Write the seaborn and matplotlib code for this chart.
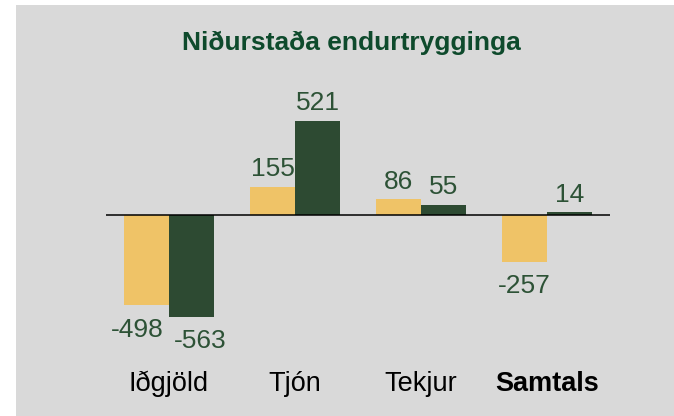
import matplotlib
matplotlib.use("Agg")
import matplotlib.pyplot as plt
from matplotlib.patches import Rectangle
import seaborn as sns
import pandas as pd

categories = ["Iðgjöld", "Tjón", "Tekjur", "Samtals"]
series_names = ["Fyrra ár", "Árið"]
values_a = [-498, 155, 86, -257]
values_b = [-563, 521, 55, 14]
title = "Niðurstaða endurtrygginga"

YELLOW = "#efc367"
GREEN = "#2d4a32"
TEXT_GREEN = "#2d5236"
TITLE_GREEN = "#0e4a2c"
BG = "#d9d9d9"

sns.set_style("white")
plt.rcParams["font.family"] = ["Liberation Sans", "DejaVu Sans"]

df = pd.DataFrame({
    "cat": categories * 2,
    "val": values_a + values_b,
    "series": [series_names[0]] * 4 + [series_names[1]] * 4,
})

W, H = 674, 416
fig = plt.figure(figsize=(W / 100, H / 100), dpi=100)
fig.patch.set_facecolor("white")
fig.patches.append(Rectangle((16 / W, 0), 1 - 16 / W, (H - 5) / H,
                             transform=fig.transFigure, facecolor=BG,
                             edgecolor="none", zorder=-10))

scale = 0.181  # px per unit
ylo, yhi = -700, 700
ax_h = (yhi - ylo) * scale
zero_from_top = 215
bottom_px = (H - zero_from_top) - (-ylo) * scale
ax = fig.add_axes([106 / W, bottom_px / H, 504 / W, ax_h / H])
ax.set_facecolor("none")

sns.barplot(data=df, x="cat", y="val", hue="series", order=categories,
            hue_order=series_names, palette=[YELLOW, GREEN], width=0.714,
            saturation=1, legend=False, ax=ax, edgecolor="none", linewidth=0)

ax.set_xlim(-0.5, 3.5)
ax.set_ylim(ylo, yhi)
ax.axhline(0, color="black", lw=1.1, zorder=5)
for s in ax.spines.values():
    s.set_visible(False)
ax.set_yticks([])
ax.set_xlabel("")
ax.set_ylabel("")
ax.tick_params(axis="x", length=0, pad=21, labelsize=19.5, labelcolor="black")
for lbl in ax.get_xticklabels():
    if lbl.get_text() == "Samtals":
        lbl.set_fontweight("bold")

xshift = {(0, 0): -6.5, (1, 0): 6.0}
for si, cont in enumerate(ax.containers):
    for ci, bar in enumerate(cont.patches):
        v = bar.get_height()
        x = bar.get_x() + bar.get_width() / 2
        dx = xshift.get((si, ci), 0)
        if v >= 0:
            ax.annotate(f"{v:.0f}", (x, v), xytext=(dx, 4), textcoords="offset points",
                        ha="center", va="bottom", fontsize=19, color=TEXT_GREEN)
        else:
            ax.annotate(f"{v:.0f}", (x, v), xytext=(dx, -9), textcoords="offset points",
                        ha="center", va="top", fontsize=19, color=TEXT_GREEN)

fig.text(351 / W, 1 - 50 / H, title, ha="center", va="baseline", fontsize=19,
         fontweight="bold", color=TITLE_GREEN)

fig.savefig("out.png", dpi=100, facecolor="white")
